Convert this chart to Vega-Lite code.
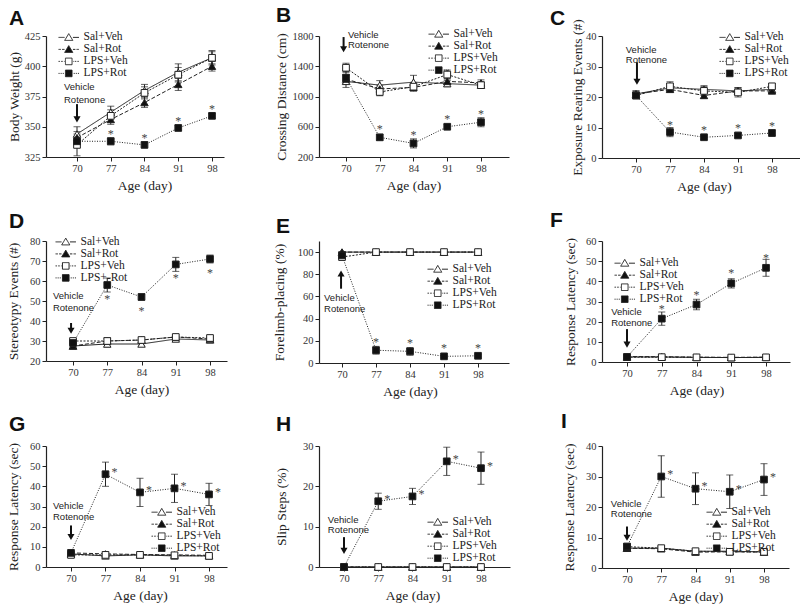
{
"$schema": "https://vega.github.io/schema/vega-lite/v6.json",
"background": "white",
"padding": {"left": 5, "top": 5, "right": 2, "bottom": 2},
"bounds": "flush",
"columns": 3,
"spacing": {"row": 83, "column": 92},
"align": {"row": "each", "column": "none"},
"datasets": {
"A": [
{"g":"Sal+Veh","day":70,"m":344,"e":6},{"g":"Sal+Veh","day":77,"m":362,"e":5},{"g":"Sal+Veh","day":84,"m":380,"e":5},{"g":"Sal+Veh","day":91,"m":395,"e":7},{"g":"Sal+Veh","day":98,"m":407,"e":6},
{"g":"Sal+Rot","day":70,"m":341,"e":5},{"g":"Sal+Rot","day":77,"m":356,"e":4},{"g":"Sal+Rot","day":84,"m":370,"e":4},{"g":"Sal+Rot","day":91,"m":385,"e":5},{"g":"Sal+Rot","day":98,"m":400,"e":4},
{"g":"LPS+Veh","day":70,"m":335,"e":9},{"g":"LPS+Veh","day":77,"m":359,"e":5},{"g":"LPS+Veh","day":84,"m":378,"e":5},{"g":"LPS+Veh","day":91,"m":393,"e":6},{"g":"LPS+Veh","day":98,"m":407,"e":5},
{"g":"LPS+Rot","day":70,"m":338,"e":3},{"g":"LPS+Rot","day":77,"m":338,"e":3},{"g":"LPS+Rot","day":84,"m":335,"e":2},{"g":"LPS+Rot","day":91,"m":349,"e":2},{"g":"LPS+Rot","day":98,"m":359,"e":2}],
"B": [
{"g":"Sal+Veh","day":70,"m":1200,"e":80},{"g":"Sal+Veh","day":77,"m":1150,"e":60},{"g":"Sal+Veh","day":84,"m":1190,"e":90},{"g":"Sal+Veh","day":91,"m":1170,"e":40},{"g":"Sal+Veh","day":98,"m":1150,"e":40},
{"g":"Sal+Rot","day":70,"m":1230,"e":60},{"g":"Sal+Rot","day":77,"m":1100,"e":50},{"g":"Sal+Rot","day":84,"m":1120,"e":50},{"g":"Sal+Rot","day":91,"m":1200,"e":40},{"g":"Sal+Rot","day":98,"m":1180,"e":40},
{"g":"LPS+Veh","day":70,"m":1380,"e":60},{"g":"LPS+Veh","day":77,"m":1060,"e":50},{"g":"LPS+Veh","day":84,"m":1130,"e":50},{"g":"LPS+Veh","day":91,"m":1290,"e":60},{"g":"LPS+Veh","day":98,"m":1150,"e":40},
{"g":"LPS+Rot","day":70,"m":1250,"e":80},{"g":"LPS+Rot","day":77,"m":460,"e":40},{"g":"LPS+Rot","day":84,"m":380,"e":60},{"g":"LPS+Rot","day":91,"m":600,"e":30},{"g":"LPS+Rot","day":98,"m":660,"e":60}],
"C": [
{"g":"Sal+Veh","day":70,"m":21,"e":1},{"g":"Sal+Veh","day":77,"m":23,"e":1.2},{"g":"Sal+Veh","day":84,"m":22.5,"e":1.2},{"g":"Sal+Veh","day":91,"m":22,"e":1},{"g":"Sal+Veh","day":98,"m":22.5,"e":1},
{"g":"Sal+Rot","day":70,"m":21,"e":1},{"g":"Sal+Rot","day":77,"m":22.5,"e":1},{"g":"Sal+Rot","day":84,"m":20.5,"e":1},{"g":"Sal+Rot","day":91,"m":22,"e":1},{"g":"Sal+Rot","day":98,"m":22,"e":1},
{"g":"LPS+Veh","day":70,"m":20.5,"e":1},{"g":"LPS+Veh","day":77,"m":23.5,"e":1.5},{"g":"LPS+Veh","day":84,"m":22,"e":1.5},{"g":"LPS+Veh","day":91,"m":21.5,"e":1.5},{"g":"LPS+Veh","day":98,"m":23.5,"e":0.8},
{"g":"LPS+Rot","day":70,"m":20.5,"e":1},{"g":"LPS+Rot","day":77,"m":8.5,"e":1.5},{"g":"LPS+Rot","day":84,"m":6.8,"e":0.6},{"g":"LPS+Rot","day":91,"m":7.4,"e":0.6},{"g":"LPS+Rot","day":98,"m":8.2,"e":1}],
"D": [
{"g":"Sal+Veh","day":70,"m":27.5,"e":1},{"g":"Sal+Veh","day":77,"m":28.5,"e":1.5},{"g":"Sal+Veh","day":84,"m":28.5,"e":1},{"g":"Sal+Veh","day":91,"m":31,"e":1},{"g":"Sal+Veh","day":98,"m":30.5,"e":1},
{"g":"Sal+Rot","day":70,"m":27.5,"e":1},{"g":"Sal+Rot","day":77,"m":30,"e":1.5},{"g":"Sal+Rot","day":84,"m":30.5,"e":1},{"g":"Sal+Rot","day":91,"m":32,"e":1},{"g":"Sal+Rot","day":98,"m":31,"e":1},
{"g":"LPS+Veh","day":70,"m":30,"e":1},{"g":"LPS+Veh","day":77,"m":30,"e":1.5},{"g":"LPS+Veh","day":84,"m":30.5,"e":1},{"g":"LPS+Veh","day":91,"m":32,"e":1},{"g":"LPS+Veh","day":98,"m":31.5,"e":1},
{"g":"LPS+Rot","day":70,"m":29,"e":1},{"g":"LPS+Rot","day":77,"m":58,"e":3.5},{"g":"LPS+Rot","day":84,"m":52,"e":1.5},{"g":"LPS+Rot","day":91,"m":68.3,"e":3.5},{"g":"LPS+Rot","day":98,"m":71,"e":2}],
"E": [
{"g":"Sal+Veh","day":70,"m":100,"e":0},{"g":"Sal+Veh","day":77,"m":100,"e":0},{"g":"Sal+Veh","day":84,"m":100,"e":0},{"g":"Sal+Veh","day":91,"m":100,"e":0},{"g":"Sal+Veh","day":98,"m":100,"e":0},
{"g":"Sal+Rot","day":70,"m":100,"e":0},{"g":"Sal+Rot","day":77,"m":100,"e":0},{"g":"Sal+Rot","day":84,"m":100,"e":0},{"g":"Sal+Rot","day":91,"m":100,"e":0},{"g":"Sal+Rot","day":98,"m":100,"e":0},
{"g":"LPS+Veh","day":70,"m":95.5,"e":1},{"g":"LPS+Veh","day":77,"m":100,"e":0},{"g":"LPS+Veh","day":84,"m":100,"e":0},{"g":"LPS+Veh","day":91,"m":100,"e":0},{"g":"LPS+Veh","day":98,"m":100,"e":0},
{"g":"LPS+Rot","day":70,"m":97,"e":1},{"g":"LPS+Rot","day":77,"m":11.5,"e":3.5},{"g":"LPS+Rot","day":84,"m":10.5,"e":3.5},{"g":"LPS+Rot","day":91,"m":6,"e":1},{"g":"LPS+Rot","day":98,"m":6.5,"e":1}],
"F": [
{"g":"Sal+Veh","day":70,"m":2.5,"e":0.5},{"g":"Sal+Veh","day":77,"m":2.5,"e":0.5},{"g":"Sal+Veh","day":84,"m":2.3,"e":0.5},{"g":"Sal+Veh","day":91,"m":2.2,"e":0.5},{"g":"Sal+Veh","day":98,"m":2.3,"e":0.5},
{"g":"Sal+Rot","day":70,"m":2.7,"e":0.5},{"g":"Sal+Rot","day":77,"m":2.6,"e":0.5},{"g":"Sal+Rot","day":84,"m":2.4,"e":0.5},{"g":"Sal+Rot","day":91,"m":2.3,"e":0.5},{"g":"Sal+Rot","day":98,"m":2.4,"e":0.5},
{"g":"LPS+Veh","day":70,"m":2.4,"e":0.5},{"g":"LPS+Veh","day":77,"m":2.4,"e":0.5},{"g":"LPS+Veh","day":84,"m":2.3,"e":0.5},{"g":"LPS+Veh","day":91,"m":2.2,"e":0.5},{"g":"LPS+Veh","day":98,"m":2.3,"e":0.5},
{"g":"LPS+Rot","day":70,"m":2.5,"e":0.5},{"g":"LPS+Rot","day":77,"m":21.5,"e":3.3},{"g":"LPS+Rot","day":84,"m":28.5,"e":2.6},{"g":"LPS+Rot","day":91,"m":39,"e":2.3},{"g":"LPS+Rot","day":98,"m":46.7,"e":4.2}],
"G": [
{"g":"Sal+Veh","day":70,"m":6.5,"e":0.8},{"g":"Sal+Veh","day":77,"m":5.5,"e":0.6},{"g":"Sal+Veh","day":84,"m":6,"e":0.6},{"g":"Sal+Veh","day":91,"m":5.5,"e":0.5},{"g":"Sal+Veh","day":98,"m":5.5,"e":0.5},
{"g":"Sal+Rot","day":70,"m":7,"e":0.8},{"g":"Sal+Rot","day":77,"m":6.5,"e":0.6},{"g":"Sal+Rot","day":84,"m":6.2,"e":0.5},{"g":"Sal+Rot","day":91,"m":6,"e":0.5},{"g":"Sal+Rot","day":98,"m":5.8,"e":0.5},
{"g":"LPS+Veh","day":70,"m":6,"e":0.8},{"g":"LPS+Veh","day":77,"m":6,"e":0.5},{"g":"LPS+Veh","day":84,"m":6,"e":0.5},{"g":"LPS+Veh","day":91,"m":5.8,"e":0.5},{"g":"LPS+Veh","day":98,"m":5.5,"e":0.5},
{"g":"LPS+Rot","day":70,"m":7,"e":0.8},{"g":"LPS+Rot","day":77,"m":46,"e":6},{"g":"LPS+Rot","day":84,"m":37,"e":7},{"g":"LPS+Rot","day":91,"m":39,"e":7},{"g":"LPS+Rot","day":98,"m":36,"e":5.5}],
"H": [
{"g":"Sal+Veh","day":70,"m":0,"e":0},{"g":"Sal+Veh","day":77,"m":0,"e":0},{"g":"Sal+Veh","day":84,"m":0,"e":0},{"g":"Sal+Veh","day":91,"m":0,"e":0},{"g":"Sal+Veh","day":98,"m":0,"e":0},
{"g":"Sal+Rot","day":70,"m":0,"e":0},{"g":"Sal+Rot","day":77,"m":0,"e":0},{"g":"Sal+Rot","day":84,"m":0,"e":0},{"g":"Sal+Rot","day":91,"m":0,"e":0},{"g":"Sal+Rot","day":98,"m":0,"e":0},
{"g":"LPS+Veh","day":70,"m":0,"e":0},{"g":"LPS+Veh","day":77,"m":0,"e":0},{"g":"LPS+Veh","day":84,"m":0,"e":0},{"g":"LPS+Veh","day":91,"m":0,"e":0},{"g":"LPS+Veh","day":98,"m":0,"e":0},
{"g":"LPS+Rot","day":70,"m":0,"e":0},{"g":"LPS+Rot","day":77,"m":16.3,"e":2},{"g":"LPS+Rot","day":84,"m":17.5,"e":2},{"g":"LPS+Rot","day":91,"m":26.2,"e":3.5},{"g":"LPS+Rot","day":98,"m":24.5,"e":4}],
"I": [
{"g":"Sal+Veh","day":70,"m":6.5,"e":0.7},{"g":"Sal+Veh","day":77,"m":6.5,"e":0.5},{"g":"Sal+Veh","day":84,"m":5.5,"e":0.6},{"g":"Sal+Veh","day":91,"m":5.5,"e":0.5},{"g":"Sal+Veh","day":98,"m":5.3,"e":0.5},
{"g":"Sal+Rot","day":70,"m":6.5,"e":0.7},{"g":"Sal+Rot","day":77,"m":6.3,"e":0.5},{"g":"Sal+Rot","day":84,"m":5.2,"e":0.5},{"g":"Sal+Rot","day":91,"m":5.3,"e":0.5},{"g":"Sal+Rot","day":98,"m":5.2,"e":0.5},
{"g":"LPS+Veh","day":70,"m":7,"e":0.7},{"g":"LPS+Veh","day":77,"m":6.5,"e":0.5},{"g":"LPS+Veh","day":84,"m":5.5,"e":0.5},{"g":"LPS+Veh","day":91,"m":5.3,"e":0.5},{"g":"LPS+Veh","day":98,"m":5.3,"e":0.5},
{"g":"LPS+Rot","day":70,"m":7,"e":0.7},{"g":"LPS+Rot","day":77,"m":30,"e":6.8},{"g":"LPS+Rot","day":84,"m":26,"e":5.2},{"g":"LPS+Rot","day":91,"m":25,"e":5.5},{"g":"LPS+Rot","day":98,"m":29,"e":5.2}]
},
"concat": [
{"width":178,"height":121,"title":{"text":"A","dx":-37,"offset":2},"data":{"name":"A"},
"encoding":{"x":{"field":"day","type":"quantitative","scale":{"domain":[63.57,100.49],"nice":false,"zero":false},"axis":{"values":[70,77,84,91,98],"format":"d","title":"Age (day)","titleX":98.5}},
"y":{"field":"m","type":"quantitative","scale":{"domain":[325,425],"nice":false,"zero":false},"axis":{"values":[325,350,375,400,425],"format":"d","title":"Body Weight (g)","titleX":-32}}},
"layer":[
{"mark":{"type":"line","color":"#222","strokeWidth":1},"encoding":{"strokeDash":{"field":"g","type":"nominal","scale":{"domain":["Sal+Veh","Sal+Rot","LPS+Veh","LPS+Rot"],"range":[[1,0],[4,2],[2,1.5],[1,1.5]]},"legend":null}}},
{"mark":{"type":"errorbar","color":"#222","thickness":1,"ticks":{"size":7,"thickness":1,"color":"#222"}},"encoding":{"yError":{"field":"e"}}},
{"transform":[{"filter":"datum.g == 'Sal+Veh' || datum.g == 'Sal+Rot'"}],"mark":{"type":"point","shape":"triangle-up","filled":true,"stroke":"#222","strokeWidth":1,"size":55,"opacity":1},"encoding":{"fill":{"field":"g","type":"nominal","scale":{"domain":["Sal+Veh","Sal+Rot","LPS+Veh","LPS+Rot"],"range":["#ffffff","#111111","#ffffff","#111111"]},"legend":null}}},
{"transform":[{"filter":"datum.g == 'LPS+Veh' || datum.g == 'LPS+Rot'"}],"mark":{"type":"point","shape":"square","filled":true,"stroke":"#222","strokeWidth":1,"size":45,"opacity":1},"encoding":{"fill":{"field":"g","type":"nominal","scale":{"domain":["Sal+Veh","Sal+Rot","LPS+Veh","LPS+Rot"],"range":["#ffffff","#111111","#ffffff","#111111"]},"legend":null}}},
{"mark":{"type":"point","filled":true,"opacity":0,"size":36},"encoding":{
"shape":{"field":"g","type":"nominal","scale":{"domain":["Sal+Veh","Sal+Rot","LPS+Veh","LPS+Rot"],"range":["M-3.4,0H-1.4M1.4,0H3.4M0,-1.25L1.35,1L-1.35,1Z","M-3.4,0H-2.6M-2.2,0H-1.4M1.4,0H2.2M2.6,0H3.4M0,-1.25L1.35,1L-1.35,1Z","M-3.4,0H-2.9M-2.5,0H-2M-1.6,0H-1.4M1.4,0H1.6M2,0H2.5M2.9,0H3.4M-1.1,-1.1H1.1V1.1H-1.1Z","M-3.4,0H-3.05M-2.7,0H-2.35M-2,0H-1.65M1.65,0H2M2.35,0H2.7M3.05,0H3.4M-1.1,-1.1H1.1V1.1H-1.1Z"]},"legend":{"title":null,"orient":"none","legendX":17,"legendY":-4.35,"symbolSize":36,"labelFont":"Liberation Serif","labelFontSize":11.5,"labelColor":"#222","labelOffset":9,"rowPadding":-6.4,"padding":0,"symbolStrokeWidth":1,"symbolStrokeColor":"#222","labelBaseline":"middle","encode":{"symbols":{"update":{"stroke":{"value":"#222"},"strokeWidth":{"value":1},"opacity":{"value":1}}}}}},
"fill":{"field":"g","type":"nominal","scale":{"domain":["Sal+Veh","Sal+Rot","LPS+Veh","LPS+Rot"],"range":["#ffffff","#111111","#ffffff","#111111"]},"legend":{"title":null,"orient":"none","legendX":17,"legendY":-4.35,"symbolSize":36,"labelFont":"Liberation Serif","labelFontSize":11.5,"labelColor":"#222","labelOffset":9,"rowPadding":-6.4,"padding":0,"symbolStrokeWidth":1,"symbolStrokeColor":"#222","labelBaseline":"middle","encode":{"symbols":{"update":{"stroke":{"value":"#222"},"strokeWidth":{"value":1},"opacity":{"value":1}}}}}},
"strokeDash":{"field":"g","type":"nominal","scale":{"domain":["Sal+Veh","Sal+Rot","LPS+Veh","LPS+Rot"],"range":[[1,0],[1,0],[1,0],[1,0]]},"legend":{"title":null,"orient":"none","legendX":17,"legendY":-4.35,"symbolSize":36,"labelFont":"Liberation Serif","labelFontSize":11.5,"labelColor":"#222","labelOffset":9,"rowPadding":-6.4,"padding":0,"symbolStrokeWidth":1,"symbolStrokeColor":"#222","labelBaseline":"middle","encode":{"symbols":{"update":{"stroke":{"value":"#222"},"strokeWidth":{"value":1},"opacity":{"value":1}}}}}}}},
{"transform":[{"filter":"datum.g == 'LPS+Rot' && datum.day > 70"}],"mark":{"type":"text","text":"*","font":"Liberation Serif","fontSize":12,"color":"#444","baseline":"middle","dy":-7}},
{"data":{"values":[{"day":70,"m":368.7,"m2":356.1}]},"mark":{"type":"rule","strokeWidth":2,"color":"#111"},"encoding":{"y2":{"field":"m2"}}},
{"data":{"values":[{"day":70,"m":356.1}]},"mark":{"type":"point","shape":"triangle-down","filled":true,"color":"#111","size":50,"opacity":1}},
{"data":{"values":[{"day":67.3,"m":380,"label":"Vehicle"},{"day":67.3,"m":369.7,"label":"Rotenone"}]},"mark":{"type":"text","align":"left","baseline":"alphabetic","font":"Liberation Sans","fontSize":9.5,"color":"#222"},"encoding":{"text":{"field":"label"}}}
],
"resolve":{"scale":{"shape":"independent","fill":"independent","strokeDash":"independent"}}},

{"width":190,"height":121,"title":{"text":"B","dx":-43,"offset":2},"data":{"name":"B"},
"encoding":{"x":{"field":"day","type":"quantitative","scale":{"domain":[64.40,103.81],"nice":false,"zero":false},"axis":{"values":[70,77,84,91,98],"format":"d","title":"Age (day)","titleX":94.5}},
"y":{"field":"m","type":"quantitative","scale":{"domain":[200,1800],"nice":false,"zero":false},"axis":{"values":[200,600,1000,1400,1800],"format":"d","title":"Crossing Distance (cm)","titleX":-38}}},
"layer":[
{"mark":{"type":"line","color":"#222","strokeWidth":1},"encoding":{"strokeDash":{"field":"g","type":"nominal","scale":{"domain":["Sal+Veh","Sal+Rot","LPS+Veh","LPS+Rot"],"range":[[1,0],[4,2],[2,1.5],[1,1.5]]},"legend":null}}},
{"mark":{"type":"errorbar","color":"#222","thickness":1,"ticks":{"size":7,"thickness":1,"color":"#222"}},"encoding":{"yError":{"field":"e"}}},
{"transform":[{"filter":"datum.g == 'Sal+Veh' || datum.g == 'Sal+Rot'"}],"mark":{"type":"point","shape":"triangle-up","filled":true,"stroke":"#222","strokeWidth":1,"size":55,"opacity":1},"encoding":{"fill":{"field":"g","type":"nominal","scale":{"domain":["Sal+Veh","Sal+Rot","LPS+Veh","LPS+Rot"],"range":["#ffffff","#111111","#ffffff","#111111"]},"legend":null}}},
{"transform":[{"filter":"datum.g == 'LPS+Veh' || datum.g == 'LPS+Rot'"}],"mark":{"type":"point","shape":"square","filled":true,"stroke":"#222","strokeWidth":1,"size":45,"opacity":1},"encoding":{"fill":{"field":"g","type":"nominal","scale":{"domain":["Sal+Veh","Sal+Rot","LPS+Veh","LPS+Rot"],"range":["#ffffff","#111111","#ffffff","#111111"]},"legend":null}}},
{"mark":{"type":"point","filled":true,"opacity":0,"size":36},"encoding":{
"shape":{"field":"g","type":"nominal","scale":{"domain":["Sal+Veh","Sal+Rot","LPS+Veh","LPS+Rot"],"range":["M-3.4,0H-1.4M1.4,0H3.4M0,-1.25L1.35,1L-1.35,1Z","M-3.4,0H-2.6M-2.2,0H-1.4M1.4,0H2.2M2.6,0H3.4M0,-1.25L1.35,1L-1.35,1Z","M-3.4,0H-2.9M-2.5,0H-2M-1.6,0H-1.4M1.4,0H1.6M2,0H2.5M2.9,0H3.4M-1.1,-1.1H1.1V1.1H-1.1Z","M-3.4,0H-3.05M-2.7,0H-2.35M-2,0H-1.65M1.65,0H2M2.35,0H2.7M3.05,0H3.4M-1.1,-1.1H1.1V1.1H-1.1Z"]},"legend":{"title":null,"orient":"none","legendX":114,"legendY":-7.6,"symbolSize":36,"labelFont":"Liberation Serif","labelFontSize":11.5,"labelColor":"#222","labelOffset":9,"rowPadding":-5.4,"padding":0,"symbolStrokeWidth":1,"symbolStrokeColor":"#222","labelBaseline":"middle","encode":{"symbols":{"update":{"stroke":{"value":"#222"},"strokeWidth":{"value":1},"opacity":{"value":1}}}}}},
"fill":{"field":"g","type":"nominal","scale":{"domain":["Sal+Veh","Sal+Rot","LPS+Veh","LPS+Rot"],"range":["#ffffff","#111111","#ffffff","#111111"]},"legend":{"title":null,"orient":"none","legendX":114,"legendY":-7.6,"symbolSize":36,"labelFont":"Liberation Serif","labelFontSize":11.5,"labelColor":"#222","labelOffset":9,"rowPadding":-5.4,"padding":0,"symbolStrokeWidth":1,"symbolStrokeColor":"#222","labelBaseline":"middle","encode":{"symbols":{"update":{"stroke":{"value":"#222"},"strokeWidth":{"value":1},"opacity":{"value":1}}}}}},
"strokeDash":{"field":"g","type":"nominal","scale":{"domain":["Sal+Veh","Sal+Rot","LPS+Veh","LPS+Rot"],"range":[[1,0],[1,0],[1,0],[1,0]]},"legend":{"title":null,"orient":"none","legendX":114,"legendY":-7.6,"symbolSize":36,"labelFont":"Liberation Serif","labelFontSize":11.5,"labelColor":"#222","labelOffset":9,"rowPadding":-5.4,"padding":0,"symbolStrokeWidth":1,"symbolStrokeColor":"#222","labelBaseline":"middle","encode":{"symbols":{"update":{"stroke":{"value":"#222"},"strokeWidth":{"value":1},"opacity":{"value":1}}}}}}}},
{"transform":[{"filter":"datum.g == 'LPS+Rot' && datum.day > 70"}],"mark":{"type":"text","text":"*","font":"Liberation Serif","fontSize":12,"color":"#444","baseline":"middle","dy":-8}},
{"data":{"values":[{"day":69.5,"m":1786,"m2":1625}]},"mark":{"type":"rule","strokeWidth":2,"color":"#111"},"encoding":{"y2":{"field":"m2"}}},
{"data":{"values":[{"day":69.5,"m":1625}]},"mark":{"type":"point","shape":"triangle-down","filled":true,"color":"#111","size":50,"opacity":1}},
{"data":{"values":[{"day":70.4,"m":1779,"label":"Vehicle"},{"day":70.4,"m":1647,"label":"Rotenone"}]},"mark":{"type":"text","align":"left","baseline":"alphabetic","font":"Liberation Sans","fontSize":9.5,"color":"#222"},"encoding":{"text":{"field":"label"}}}
],
"resolve":{"scale":{"shape":"independent","fill":"independent","strokeDash":"independent"}}},

{"width":200,"height":122,"title":{"text":"C","dx":-52,"offset":-10},"data":{"name":"C"},
"encoding":{"x":{"field":"day","type":"quantitative","scale":{"domain":[63.0,104.18],"nice":false,"zero":false},"axis":{"values":[70,77,84,91,98],"format":"d","title":"Age (day)","titleX":102}},
"y":{"field":"m","type":"quantitative","scale":{"domain":[0,40],"nice":false,"zero":false},"axis":{"values":[0,10,20,30,40],"format":"d","title":"Exposure Rearing Events (#)","titleX":-25}}},
"layer":[
{"mark":{"type":"line","color":"#222","strokeWidth":1},"encoding":{"strokeDash":{"field":"g","type":"nominal","scale":{"domain":["Sal+Veh","Sal+Rot","LPS+Veh","LPS+Rot"],"range":[[1,0],[4,2],[2,1.5],[1,1.5]]},"legend":null}}},
{"mark":{"type":"errorbar","color":"#222","thickness":1,"ticks":{"size":7,"thickness":1,"color":"#222"}},"encoding":{"yError":{"field":"e"}}},
{"transform":[{"filter":"datum.g == 'Sal+Veh' || datum.g == 'Sal+Rot'"}],"mark":{"type":"point","shape":"triangle-up","filled":true,"stroke":"#222","strokeWidth":1,"size":55,"opacity":1},"encoding":{"fill":{"field":"g","type":"nominal","scale":{"domain":["Sal+Veh","Sal+Rot","LPS+Veh","LPS+Rot"],"range":["#ffffff","#111111","#ffffff","#111111"]},"legend":null}}},
{"transform":[{"filter":"datum.g == 'LPS+Veh' || datum.g == 'LPS+Rot'"}],"mark":{"type":"point","shape":"square","filled":true,"stroke":"#222","strokeWidth":1,"size":45,"opacity":1},"encoding":{"fill":{"field":"g","type":"nominal","scale":{"domain":["Sal+Veh","Sal+Rot","LPS+Veh","LPS+Rot"],"range":["#ffffff","#111111","#ffffff","#111111"]},"legend":null}}},
{"mark":{"type":"point","filled":true,"opacity":0,"size":36},"encoding":{
"shape":{"field":"g","type":"nominal","scale":{"domain":["Sal+Veh","Sal+Rot","LPS+Veh","LPS+Rot"],"range":["M-3.4,0H-1.4M1.4,0H3.4M0,-1.25L1.35,1L-1.35,1Z","M-3.4,0H-2.6M-2.2,0H-1.4M1.4,0H2.2M2.6,0H3.4M0,-1.25L1.35,1L-1.35,1Z","M-3.4,0H-2.9M-2.5,0H-2M-1.6,0H-1.4M1.4,0H1.6M2,0H2.5M2.9,0H3.4M-1.1,-1.1H1.1V1.1H-1.1Z","M-3.4,0H-3.05M-2.7,0H-2.35M-2,0H-1.65M1.65,0H2M2.35,0H2.7M3.05,0H3.4M-1.1,-1.1H1.1V1.1H-1.1Z"]},"legend":{"title":null,"orient":"none","legendX":122,"legendY":-4.35,"symbolSize":36,"labelFont":"Liberation Serif","labelFontSize":11.5,"labelColor":"#222","labelOffset":9,"rowPadding":-6.6,"padding":0,"symbolStrokeWidth":1,"symbolStrokeColor":"#222","labelBaseline":"middle","encode":{"symbols":{"update":{"stroke":{"value":"#222"},"strokeWidth":{"value":1},"opacity":{"value":1}}}}}},
"fill":{"field":"g","type":"nominal","scale":{"domain":["Sal+Veh","Sal+Rot","LPS+Veh","LPS+Rot"],"range":["#ffffff","#111111","#ffffff","#111111"]},"legend":{"title":null,"orient":"none","legendX":122,"legendY":-4.35,"symbolSize":36,"labelFont":"Liberation Serif","labelFontSize":11.5,"labelColor":"#222","labelOffset":9,"rowPadding":-6.6,"padding":0,"symbolStrokeWidth":1,"symbolStrokeColor":"#222","labelBaseline":"middle","encode":{"symbols":{"update":{"stroke":{"value":"#222"},"strokeWidth":{"value":1},"opacity":{"value":1}}}}}},
"strokeDash":{"field":"g","type":"nominal","scale":{"domain":["Sal+Veh","Sal+Rot","LPS+Veh","LPS+Rot"],"range":[[1,0],[1,0],[1,0],[1,0]]},"legend":{"title":null,"orient":"none","legendX":122,"legendY":-4.35,"symbolSize":36,"labelFont":"Liberation Serif","labelFontSize":11.5,"labelColor":"#222","labelOffset":9,"rowPadding":-6.6,"padding":0,"symbolStrokeWidth":1,"symbolStrokeColor":"#222","labelBaseline":"middle","encode":{"symbols":{"update":{"stroke":{"value":"#222"},"strokeWidth":{"value":1},"opacity":{"value":1}}}}}}}},
{"transform":[{"filter":"datum.g == 'LPS+Rot' && datum.day > 70"}],"mark":{"type":"text","text":"*","font":"Liberation Serif","fontSize":12,"color":"#444","baseline":"middle","dy":-7}},
{"data":{"values":[{"day":70.2,"m":31.4,"m2":25}]},"mark":{"type":"rule","strokeWidth":2,"color":"#111"},"encoding":{"y2":{"field":"m2"}}},
{"data":{"values":[{"day":70.2,"m":25}]},"mark":{"type":"point","shape":"triangle-down","filled":true,"color":"#111","size":50,"opacity":1}},
{"data":{"values":[{"day":67.9,"m":34.4,"label":"Vehicle"},{"day":67.9,"m":31.1,"label":"Rotenone"}]},"mark":{"type":"text","align":"left","baseline":"alphabetic","font":"Liberation Sans","fontSize":9.5,"color":"#222"},"encoding":{"text":{"field":"label"}}}
],
"resolve":{"scale":{"shape":"independent","fill":"independent","strokeDash":"independent"}}},

{"width":181,"height":120,"title":{"text":"D","dx":-37,"offset":4},"data":{"name":"D"},
"encoding":{"x":{"field":"day","type":"quantitative","scale":{"domain":[64.48,101.47],"nice":false,"zero":false},"axis":{"values":[70,77,84,91,98],"format":"d","title":"Age (day)","titleX":95.5}},
"y":{"field":"m","type":"quantitative","scale":{"domain":[20,80],"nice":false,"zero":false},"axis":{"values":[20,30,40,50,60,70,80],"format":"d","title":"Stereotypy Events (#)","titleX":-33}}},
"layer":[
{"mark":{"type":"line","color":"#222","strokeWidth":1},"encoding":{"strokeDash":{"field":"g","type":"nominal","scale":{"domain":["Sal+Veh","Sal+Rot","LPS+Veh","LPS+Rot"],"range":[[1,0],[4,2],[2,1.5],[1,1.5]]},"legend":null}}},
{"mark":{"type":"errorbar","color":"#222","thickness":1,"ticks":{"size":7,"thickness":1,"color":"#222"}},"encoding":{"yError":{"field":"e"}}},
{"transform":[{"filter":"datum.g == 'Sal+Veh' || datum.g == 'Sal+Rot'"}],"mark":{"type":"point","shape":"triangle-up","filled":true,"stroke":"#222","strokeWidth":1,"size":55,"opacity":1},"encoding":{"fill":{"field":"g","type":"nominal","scale":{"domain":["Sal+Veh","Sal+Rot","LPS+Veh","LPS+Rot"],"range":["#ffffff","#111111","#ffffff","#111111"]},"legend":null}}},
{"transform":[{"filter":"datum.g == 'LPS+Veh' || datum.g == 'LPS+Rot'"}],"mark":{"type":"point","shape":"square","filled":true,"stroke":"#222","strokeWidth":1,"size":45,"opacity":1},"encoding":{"fill":{"field":"g","type":"nominal","scale":{"domain":["Sal+Veh","Sal+Rot","LPS+Veh","LPS+Rot"],"range":["#ffffff","#111111","#ffffff","#111111"]},"legend":null}}},
{"mark":{"type":"point","filled":true,"opacity":0,"size":36},"encoding":{
"shape":{"field":"g","type":"nominal","scale":{"domain":["Sal+Veh","Sal+Rot","LPS+Veh","LPS+Rot"],"range":["M-3.4,0H-1.4M1.4,0H3.4M0,-1.25L1.35,1L-1.35,1Z","M-3.4,0H-2.6M-2.2,0H-1.4M1.4,0H2.2M2.6,0H3.4M0,-1.25L1.35,1L-1.35,1Z","M-3.4,0H-2.9M-2.5,0H-2M-1.6,0H-1.4M1.4,0H1.6M2,0H2.5M2.9,0H3.4M-1.1,-1.1H1.1V1.1H-1.1Z","M-3.4,0H-3.05M-2.7,0H-2.35M-2,0H-1.65M1.65,0H2M2.35,0H2.7M3.05,0H3.4M-1.1,-1.1H1.1V1.1H-1.1Z"]},"legend":{"title":null,"orient":"none","legendX":14,"legendY":-4.85,"symbolSize":36,"labelFont":"Liberation Serif","labelFontSize":11.5,"labelColor":"#222","labelOffset":9,"rowPadding":-5.7,"padding":0,"symbolStrokeWidth":1,"symbolStrokeColor":"#222","labelBaseline":"middle","labelExpr":"datum.label == 'LPS+Rot' ? 'LPS+-Rot' : datum.label","encode":{"symbols":{"update":{"stroke":{"value":"#222"},"strokeWidth":{"value":1},"opacity":{"value":1}}}}}},
"fill":{"field":"g","type":"nominal","scale":{"domain":["Sal+Veh","Sal+Rot","LPS+Veh","LPS+Rot"],"range":["#ffffff","#111111","#ffffff","#111111"]},"legend":{"title":null,"orient":"none","legendX":14,"legendY":-4.85,"symbolSize":36,"labelFont":"Liberation Serif","labelFontSize":11.5,"labelColor":"#222","labelOffset":9,"rowPadding":-5.7,"padding":0,"symbolStrokeWidth":1,"symbolStrokeColor":"#222","labelBaseline":"middle","labelExpr":"datum.label == 'LPS+Rot' ? 'LPS+-Rot' : datum.label","encode":{"symbols":{"update":{"stroke":{"value":"#222"},"strokeWidth":{"value":1},"opacity":{"value":1}}}}}},
"strokeDash":{"field":"g","type":"nominal","scale":{"domain":["Sal+Veh","Sal+Rot","LPS+Veh","LPS+Rot"],"range":[[1,0],[1,0],[1,0],[1,0]]},"legend":{"title":null,"orient":"none","legendX":14,"legendY":-4.85,"symbolSize":36,"labelFont":"Liberation Serif","labelFontSize":11.5,"labelColor":"#222","labelOffset":9,"rowPadding":-5.7,"padding":0,"symbolStrokeWidth":1,"symbolStrokeColor":"#222","labelBaseline":"middle","labelExpr":"datum.label == 'LPS+Rot' ? 'LPS+-Rot' : datum.label","encode":{"symbols":{"update":{"stroke":{"value":"#222"},"strokeWidth":{"value":1},"opacity":{"value":1}}}}}}}},
{"transform":[{"filter":"datum.g == 'LPS+Rot' && datum.day > 70"}],"mark":{"type":"text","text":"*","font":"Liberation Serif","fontSize":12,"color":"#444","baseline":"middle","dy":14}},
{"data":{"values":[{"day":69.6,"m":39,"m2":35.1}]},"mark":{"type":"rule","strokeWidth":2,"color":"#111"},"encoding":{"y2":{"field":"m2"}}},
{"data":{"values":[{"day":69.6,"m":35.1}]},"mark":{"type":"point","shape":"triangle-down","filled":true,"color":"#111","size":50,"opacity":1}},
{"data":{"values":[{"day":65.9,"m":51,"label":"Vehicle"},{"day":65.9,"m":45.25,"label":"Rotenone"}]},"mark":{"type":"text","align":"left","baseline":"alphabetic","font":"Liberation Sans","fontSize":9.5,"color":"#222"},"encoding":{"text":{"field":"label"}}}
],
"resolve":{"scale":{"shape":"independent","fill":"independent","strokeDash":"independent"}}},

{"width":190,"height":122,"title":{"text":"E","dx":-43,"offset":4},"data":{"name":"E"},
"encoding":{"x":{"field":"day","type":"quantitative","scale":{"domain":[65.26,104.38],"nice":false,"zero":false},"axis":{"values":[70,77,84,91,98],"format":"d","title":"Age (day)","titleX":91}},
"y":{"field":"m","type":"quantitative","scale":{"domain":[0,110],"nice":false,"zero":false},"axis":{"values":[0,20,40,60,80,100],"format":"d","title":"Forelimb-placing (%)","titleX":-40}}},
"layer":[
{"mark":{"type":"line","color":"#222","strokeWidth":1},"encoding":{"strokeDash":{"field":"g","type":"nominal","scale":{"domain":["Sal+Veh","Sal+Rot","LPS+Veh","LPS+Rot"],"range":[[1,0],[4,2],[2,1.5],[1,1.5]]},"legend":null}}},
{"mark":{"type":"errorbar","color":"#222","thickness":1,"ticks":{"size":7,"thickness":1,"color":"#222"}},"encoding":{"yError":{"field":"e"}}},
{"transform":[{"filter":"datum.g == 'Sal+Veh' || datum.g == 'Sal+Rot'"}],"mark":{"type":"point","shape":"triangle-up","filled":true,"stroke":"#222","strokeWidth":1,"size":55,"opacity":1},"encoding":{"fill":{"field":"g","type":"nominal","scale":{"domain":["Sal+Veh","Sal+Rot","LPS+Veh","LPS+Rot"],"range":["#ffffff","#111111","#ffffff","#111111"]},"legend":null}}},
{"transform":[{"filter":"datum.g == 'LPS+Veh' || datum.g == 'LPS+Rot'"}],"mark":{"type":"point","shape":"square","filled":true,"stroke":"#222","strokeWidth":1,"size":45,"opacity":1},"encoding":{"fill":{"field":"g","type":"nominal","scale":{"domain":["Sal+Veh","Sal+Rot","LPS+Veh","LPS+Rot"],"range":["#ffffff","#111111","#ffffff","#111111"]},"legend":null}}},
{"mark":{"type":"point","filled":true,"opacity":0,"size":36},"encoding":{
"shape":{"field":"g","type":"nominal","scale":{"domain":["Sal+Veh","Sal+Rot","LPS+Veh","LPS+Rot"],"range":["M-3.4,0H-1.4M1.4,0H3.4M0,-1.25L1.35,1L-1.35,1Z","M-3.4,0H-2.6M-2.2,0H-1.4M1.4,0H2.2M2.6,0H3.4M0,-1.25L1.35,1L-1.35,1Z","M-3.4,0H-2.9M-2.5,0H-2M-1.6,0H-1.4M1.4,0H1.6M2,0H2.5M2.9,0H3.4M-1.1,-1.1H1.1V1.1H-1.1Z","M-3.4,0H-3.05M-2.7,0H-2.35M-2,0H-1.65M1.65,0H2M2.35,0H2.7M3.05,0H3.4M-1.1,-1.1H1.1V1.1H-1.1Z"]},"legend":{"title":null,"orient":"none","legendX":113,"legendY":22.45,"symbolSize":36,"labelFont":"Liberation Serif","labelFontSize":11.5,"labelColor":"#222","labelOffset":9,"rowPadding":-5.4,"padding":0,"symbolStrokeWidth":1,"symbolStrokeColor":"#222","labelBaseline":"middle","encode":{"symbols":{"update":{"stroke":{"value":"#222"},"strokeWidth":{"value":1},"opacity":{"value":1}}}}}},
"fill":{"field":"g","type":"nominal","scale":{"domain":["Sal+Veh","Sal+Rot","LPS+Veh","LPS+Rot"],"range":["#ffffff","#111111","#ffffff","#111111"]},"legend":{"title":null,"orient":"none","legendX":113,"legendY":22.45,"symbolSize":36,"labelFont":"Liberation Serif","labelFontSize":11.5,"labelColor":"#222","labelOffset":9,"rowPadding":-5.4,"padding":0,"symbolStrokeWidth":1,"symbolStrokeColor":"#222","labelBaseline":"middle","encode":{"symbols":{"update":{"stroke":{"value":"#222"},"strokeWidth":{"value":1},"opacity":{"value":1}}}}}},
"strokeDash":{"field":"g","type":"nominal","scale":{"domain":["Sal+Veh","Sal+Rot","LPS+Veh","LPS+Rot"],"range":[[1,0],[1,0],[1,0],[1,0]]},"legend":{"title":null,"orient":"none","legendX":113,"legendY":22.45,"symbolSize":36,"labelFont":"Liberation Serif","labelFontSize":11.5,"labelColor":"#222","labelOffset":9,"rowPadding":-5.4,"padding":0,"symbolStrokeWidth":1,"symbolStrokeColor":"#222","labelBaseline":"middle","encode":{"symbols":{"update":{"stroke":{"value":"#222"},"strokeWidth":{"value":1},"opacity":{"value":1}}}}}}}},
{"transform":[{"filter":"datum.g == 'LPS+Rot' && datum.day > 70"}],"mark":{"type":"text","text":"*","font":"Liberation Serif","fontSize":12,"color":"#444","baseline":"middle","dy":-8}},
{"data":{"values":[{"day":69.8,"m":67,"m2":80.7}]},"mark":{"type":"rule","strokeWidth":2,"color":"#111"},"encoding":{"y2":{"field":"m2"}}},
{"data":{"values":[{"day":69.8,"m":80.7}]},"mark":{"type":"point","shape":"triangle-up","filled":true,"color":"#111","size":50,"opacity":1}},
{"data":{"values":[{"day":66.3,"m":55.5,"label":"Vehicle"},{"day":66.3,"m":46.0,"label":"Rotenone"}]},"mark":{"type":"text","align":"left","baseline":"alphabetic","font":"Liberation Sans","fontSize":9.5,"color":"#222"},"encoding":{"text":{"field":"label"}}}
],
"resolve":{"scale":{"shape":"independent","fill":"independent","strokeDash":"independent"}}},

{"width":188,"height":121,"title":{"text":"F","dx":-52,"offset":5},"data":{"name":"F"},
"encoding":{"x":{"field":"day","type":"quantitative","scale":{"domain":[64.96,102.83],"nice":false,"zero":false},"axis":{"values":[70,77,84,91,98],"format":"d","title":"Age (day)","titleX":94.5}},
"y":{"field":"m","type":"quantitative","scale":{"domain":[0,60],"nice":false,"zero":false},"axis":{"values":[0,10,20,30,40,50,60],"format":"d","title":"Response Latency (sec)","titleX":-32}}},
"layer":[
{"mark":{"type":"line","color":"#222","strokeWidth":1},"encoding":{"strokeDash":{"field":"g","type":"nominal","scale":{"domain":["Sal+Veh","Sal+Rot","LPS+Veh","LPS+Rot"],"range":[[1,0],[4,2],[2,1.5],[1,1.5]]},"legend":null}}},
{"mark":{"type":"errorbar","color":"#222","thickness":1,"ticks":{"size":7,"thickness":1,"color":"#222"}},"encoding":{"yError":{"field":"e"}}},
{"transform":[{"filter":"datum.g == 'Sal+Veh' || datum.g == 'Sal+Rot'"}],"mark":{"type":"point","shape":"triangle-up","filled":true,"stroke":"#222","strokeWidth":1,"size":55,"opacity":1},"encoding":{"fill":{"field":"g","type":"nominal","scale":{"domain":["Sal+Veh","Sal+Rot","LPS+Veh","LPS+Rot"],"range":["#ffffff","#111111","#ffffff","#111111"]},"legend":null}}},
{"transform":[{"filter":"datum.g == 'LPS+Veh' || datum.g == 'LPS+Rot'"}],"mark":{"type":"point","shape":"square","filled":true,"stroke":"#222","strokeWidth":1,"size":45,"opacity":1},"encoding":{"fill":{"field":"g","type":"nominal","scale":{"domain":["Sal+Veh","Sal+Rot","LPS+Veh","LPS+Rot"],"range":["#ffffff","#111111","#ffffff","#111111"]},"legend":null}}},
{"mark":{"type":"point","filled":true,"opacity":0,"size":36},"encoding":{
"shape":{"field":"g","type":"nominal","scale":{"domain":["Sal+Veh","Sal+Rot","LPS+Veh","LPS+Rot"],"range":["M-3.4,0H-1.4M1.4,0H3.4M0,-1.25L1.35,1L-1.35,1Z","M-3.4,0H-2.6M-2.2,0H-1.4M1.4,0H2.2M2.6,0H3.4M0,-1.25L1.35,1L-1.35,1Z","M-3.4,0H-2.9M-2.5,0H-2M-1.6,0H-1.4M1.4,0H1.6M2,0H2.5M2.9,0H3.4M-1.1,-1.1H1.1V1.1H-1.1Z","M-3.4,0H-3.05M-2.7,0H-2.35M-2,0H-1.65M1.65,0H2M2.35,0H2.7M3.05,0H3.4M-1.1,-1.1H1.1V1.1H-1.1Z"]},"legend":{"title":null,"orient":"none","legendX":17,"legendY":16.45,"symbolSize":36,"labelFont":"Liberation Serif","labelFontSize":11.5,"labelColor":"#222","labelOffset":9,"rowPadding":-5.7,"padding":0,"symbolStrokeWidth":1,"symbolStrokeColor":"#222","labelBaseline":"middle","encode":{"symbols":{"update":{"stroke":{"value":"#222"},"strokeWidth":{"value":1},"opacity":{"value":1}}}}}},
"fill":{"field":"g","type":"nominal","scale":{"domain":["Sal+Veh","Sal+Rot","LPS+Veh","LPS+Rot"],"range":["#ffffff","#111111","#ffffff","#111111"]},"legend":{"title":null,"orient":"none","legendX":17,"legendY":16.45,"symbolSize":36,"labelFont":"Liberation Serif","labelFontSize":11.5,"labelColor":"#222","labelOffset":9,"rowPadding":-5.7,"padding":0,"symbolStrokeWidth":1,"symbolStrokeColor":"#222","labelBaseline":"middle","encode":{"symbols":{"update":{"stroke":{"value":"#222"},"strokeWidth":{"value":1},"opacity":{"value":1}}}}}},
"strokeDash":{"field":"g","type":"nominal","scale":{"domain":["Sal+Veh","Sal+Rot","LPS+Veh","LPS+Rot"],"range":[[1,0],[1,0],[1,0],[1,0]]},"legend":{"title":null,"orient":"none","legendX":17,"legendY":16.45,"symbolSize":36,"labelFont":"Liberation Serif","labelFontSize":11.5,"labelColor":"#222","labelOffset":9,"rowPadding":-5.7,"padding":0,"symbolStrokeWidth":1,"symbolStrokeColor":"#222","labelBaseline":"middle","encode":{"symbols":{"update":{"stroke":{"value":"#222"},"strokeWidth":{"value":1},"opacity":{"value":1}}}}}}}},
{"transform":[{"filter":"datum.g == 'LPS+Rot' && datum.day > 70"}],"mark":{"type":"text","text":"*","font":"Liberation Serif","fontSize":12,"color":"#444","baseline":"middle","dy":-10}},
{"data":{"values":[{"day":70,"m":16.3,"m2":8.6}]},"mark":{"type":"rule","strokeWidth":2,"color":"#111"},"encoding":{"y2":{"field":"m2"}}},
{"data":{"values":[{"day":70,"m":8.6}]},"mark":{"type":"point","shape":"triangle-down","filled":true,"color":"#111","size":50,"opacity":1}},
{"data":{"values":[{"day":66.8,"m":23.1,"label":"Vehicle"},{"day":66.8,"m":17.65,"label":"Rotenone"}]},"mark":{"type":"text","align":"left","baseline":"alphabetic","font":"Liberation Sans","fontSize":9.5,"color":"#222"},"encoding":{"text":{"field":"label"}}}
],
"resolve":{"scale":{"shape":"independent","fill":"independent","strokeDash":"independent"}}},

{"width":181,"height":121,"title":{"text":"G","dx":-37,"offset":6},"data":{"name":"G"},
"encoding":{"x":{"field":"day","type":"quantitative","scale":{"domain":[64.93,101.65],"nice":false,"zero":false},"axis":{"values":[70,77,84,91,98],"format":"d","title":"Age (day)","titleX":94}},
"y":{"field":"m","type":"quantitative","scale":{"domain":[0,60],"nice":false,"zero":false},"axis":{"values":[0,10,20,30,40,50,60],"format":"d","title":"Response Latency (sec)","titleX":-33}}},
"layer":[
{"mark":{"type":"line","color":"#222","strokeWidth":1},"encoding":{"strokeDash":{"field":"g","type":"nominal","scale":{"domain":["Sal+Veh","Sal+Rot","LPS+Veh","LPS+Rot"],"range":[[1,0],[4,2],[2,1.5],[1,1.5]]},"legend":null}}},
{"mark":{"type":"errorbar","color":"#222","thickness":1,"ticks":{"size":7,"thickness":1,"color":"#222"}},"encoding":{"yError":{"field":"e"}}},
{"transform":[{"filter":"datum.g == 'Sal+Veh' || datum.g == 'Sal+Rot'"}],"mark":{"type":"point","shape":"triangle-up","filled":true,"stroke":"#222","strokeWidth":1,"size":55,"opacity":1},"encoding":{"fill":{"field":"g","type":"nominal","scale":{"domain":["Sal+Veh","Sal+Rot","LPS+Veh","LPS+Rot"],"range":["#ffffff","#111111","#ffffff","#111111"]},"legend":null}}},
{"transform":[{"filter":"datum.g == 'LPS+Veh' || datum.g == 'LPS+Rot'"}],"mark":{"type":"point","shape":"square","filled":true,"stroke":"#222","strokeWidth":1,"size":45,"opacity":1},"encoding":{"fill":{"field":"g","type":"nominal","scale":{"domain":["Sal+Veh","Sal+Rot","LPS+Veh","LPS+Rot"],"range":["#ffffff","#111111","#ffffff","#111111"]},"legend":null}}},
{"mark":{"type":"point","filled":true,"opacity":0,"size":36},"encoding":{
"shape":{"field":"g","type":"nominal","scale":{"domain":["Sal+Veh","Sal+Rot","LPS+Veh","LPS+Rot"],"range":["M-3.4,0H-1.4M1.4,0H3.4M0,-1.25L1.35,1L-1.35,1Z","M-3.4,0H-2.6M-2.2,0H-1.4M1.4,0H2.2M2.6,0H3.4M0,-1.25L1.35,1L-1.35,1Z","M-3.4,0H-2.9M-2.5,0H-2M-1.6,0H-1.4M1.4,0H1.6M2,0H2.5M2.9,0H3.4M-1.1,-1.1H1.1V1.1H-1.1Z","M-3.4,0H-3.05M-2.7,0H-2.35M-2,0H-1.65M1.65,0H2M2.35,0H2.7M3.05,0H3.4M-1.1,-1.1H1.1V1.1H-1.1Z"]},"legend":{"title":null,"orient":"none","legendX":110,"legendY":60.45,"symbolSize":36,"labelFont":"Liberation Serif","labelFontSize":11.5,"labelColor":"#222","labelOffset":9,"rowPadding":-5,"padding":0,"symbolStrokeWidth":1,"symbolStrokeColor":"#222","labelBaseline":"middle","encode":{"symbols":{"update":{"stroke":{"value":"#222"},"strokeWidth":{"value":1},"opacity":{"value":1}}}}}},
"fill":{"field":"g","type":"nominal","scale":{"domain":["Sal+Veh","Sal+Rot","LPS+Veh","LPS+Rot"],"range":["#ffffff","#111111","#ffffff","#111111"]},"legend":{"title":null,"orient":"none","legendX":110,"legendY":60.45,"symbolSize":36,"labelFont":"Liberation Serif","labelFontSize":11.5,"labelColor":"#222","labelOffset":9,"rowPadding":-5,"padding":0,"symbolStrokeWidth":1,"symbolStrokeColor":"#222","labelBaseline":"middle","encode":{"symbols":{"update":{"stroke":{"value":"#222"},"strokeWidth":{"value":1},"opacity":{"value":1}}}}}},
"strokeDash":{"field":"g","type":"nominal","scale":{"domain":["Sal+Veh","Sal+Rot","LPS+Veh","LPS+Rot"],"range":[[1,0],[1,0],[1,0],[1,0]]},"legend":{"title":null,"orient":"none","legendX":110,"legendY":60.45,"symbolSize":36,"labelFont":"Liberation Serif","labelFontSize":11.5,"labelColor":"#222","labelOffset":9,"rowPadding":-5,"padding":0,"symbolStrokeWidth":1,"symbolStrokeColor":"#222","labelBaseline":"middle","encode":{"symbols":{"update":{"stroke":{"value":"#222"},"strokeWidth":{"value":1},"opacity":{"value":1}}}}}}}},
{"transform":[{"filter":"datum.g == 'LPS+Rot' && datum.day > 70"}],"mark":{"type":"text","text":"*","font":"Liberation Serif","fontSize":12,"color":"#444","baseline":"middle","dx":9,"dy":-2}},
{"data":{"values":[{"day":70,"m":20.6,"m2":14.9}]},"mark":{"type":"rule","strokeWidth":2,"color":"#111"},"encoding":{"y2":{"field":"m2"}}},
{"data":{"values":[{"day":70,"m":14.9}]},"mark":{"type":"point","shape":"triangle-down","filled":true,"color":"#111","size":50,"opacity":1}},
{"data":{"values":[{"day":66.35,"m":29,"label":"Vehicle"},{"day":66.35,"m":23.3,"label":"Rotenone"}]},"mark":{"type":"text","align":"left","baseline":"alphabetic","font":"Liberation Sans","fontSize":9.5,"color":"#222"},"encoding":{"text":{"field":"label"}}}
],
"resolve":{"scale":{"shape":"independent","fill":"independent","strokeDash":"independent"}}},

{"width":191,"height":121,"title":{"text":"H","dx":-43,"offset":6},"data":{"name":"H"},
"encoding":{"x":{"field":"day","type":"quantitative","scale":{"domain":[64.89,103.93],"nice":false,"zero":false},"axis":{"values":[70,77,84,91,98],"format":"d","title":"Age (day)","titleX":93.5}},
"y":{"field":"m","type":"quantitative","scale":{"domain":[0,30],"nice":false,"zero":false},"axis":{"values":[0,10,20,30],"format":"d","title":"Slip Steps (%)","titleX":-38}}},
"layer":[
{"mark":{"type":"line","color":"#222","strokeWidth":1},"encoding":{"strokeDash":{"field":"g","type":"nominal","scale":{"domain":["Sal+Veh","Sal+Rot","LPS+Veh","LPS+Rot"],"range":[[1,0],[4,2],[2,1.5],[1,1.5]]},"legend":null}}},
{"mark":{"type":"errorbar","color":"#222","thickness":1,"ticks":{"size":7,"thickness":1,"color":"#222"}},"encoding":{"yError":{"field":"e"}}},
{"transform":[{"filter":"datum.g == 'Sal+Veh' || datum.g == 'Sal+Rot'"}],"mark":{"type":"point","shape":"triangle-up","filled":true,"stroke":"#222","strokeWidth":1,"size":55,"opacity":1},"encoding":{"fill":{"field":"g","type":"nominal","scale":{"domain":["Sal+Veh","Sal+Rot","LPS+Veh","LPS+Rot"],"range":["#ffffff","#111111","#ffffff","#111111"]},"legend":null}}},
{"transform":[{"filter":"datum.g == 'LPS+Veh' || datum.g == 'LPS+Rot'"}],"mark":{"type":"point","shape":"square","filled":true,"stroke":"#222","strokeWidth":1,"size":45,"opacity":1},"encoding":{"fill":{"field":"g","type":"nominal","scale":{"domain":["Sal+Veh","Sal+Rot","LPS+Veh","LPS+Rot"],"range":["#ffffff","#111111","#ffffff","#111111"]},"legend":null}}},
{"mark":{"type":"point","filled":true,"opacity":0,"size":36},"encoding":{
"shape":{"field":"g","type":"nominal","scale":{"domain":["Sal+Veh","Sal+Rot","LPS+Veh","LPS+Rot"],"range":["M-3.4,0H-1.4M1.4,0H3.4M0,-1.25L1.35,1L-1.35,1Z","M-3.4,0H-2.6M-2.2,0H-1.4M1.4,0H2.2M2.6,0H3.4M0,-1.25L1.35,1L-1.35,1Z","M-3.4,0H-2.9M-2.5,0H-2M-1.6,0H-1.4M1.4,0H1.6M2,0H2.5M2.9,0H3.4M-1.1,-1.1H1.1V1.1H-1.1Z","M-3.4,0H-3.05M-2.7,0H-2.35M-2,0H-1.65M1.65,0H2M2.35,0H2.7M3.05,0H3.4M-1.1,-1.1H1.1V1.1H-1.1Z"]},"legend":{"title":null,"orient":"none","legendX":113,"legendY":70.45,"symbolSize":36,"labelFont":"Liberation Serif","labelFontSize":11.5,"labelColor":"#222","labelOffset":9,"rowPadding":-5.7,"padding":0,"symbolStrokeWidth":1,"symbolStrokeColor":"#222","labelBaseline":"middle","encode":{"symbols":{"update":{"stroke":{"value":"#222"},"strokeWidth":{"value":1},"opacity":{"value":1}}}}}},
"fill":{"field":"g","type":"nominal","scale":{"domain":["Sal+Veh","Sal+Rot","LPS+Veh","LPS+Rot"],"range":["#ffffff","#111111","#ffffff","#111111"]},"legend":{"title":null,"orient":"none","legendX":113,"legendY":70.45,"symbolSize":36,"labelFont":"Liberation Serif","labelFontSize":11.5,"labelColor":"#222","labelOffset":9,"rowPadding":-5.7,"padding":0,"symbolStrokeWidth":1,"symbolStrokeColor":"#222","labelBaseline":"middle","encode":{"symbols":{"update":{"stroke":{"value":"#222"},"strokeWidth":{"value":1},"opacity":{"value":1}}}}}},
"strokeDash":{"field":"g","type":"nominal","scale":{"domain":["Sal+Veh","Sal+Rot","LPS+Veh","LPS+Rot"],"range":[[1,0],[1,0],[1,0],[1,0]]},"legend":{"title":null,"orient":"none","legendX":113,"legendY":70.45,"symbolSize":36,"labelFont":"Liberation Serif","labelFontSize":11.5,"labelColor":"#222","labelOffset":9,"rowPadding":-5.7,"padding":0,"symbolStrokeWidth":1,"symbolStrokeColor":"#222","labelBaseline":"middle","encode":{"symbols":{"update":{"stroke":{"value":"#222"},"strokeWidth":{"value":1},"opacity":{"value":1}}}}}}}},
{"transform":[{"filter":"datum.g == 'LPS+Rot' && datum.day > 70"}],"mark":{"type":"text","text":"*","font":"Liberation Serif","fontSize":12,"color":"#444","baseline":"middle","dx":9,"dy":-2}},
{"data":{"values":[{"day":70,"m":7.4,"m2":4.0}]},"mark":{"type":"rule","strokeWidth":2,"color":"#111"},"encoding":{"y2":{"field":"m2"}}},
{"data":{"values":[{"day":70,"m":4.0}]},"mark":{"type":"point","shape":"triangle-down","filled":true,"color":"#111","size":50,"opacity":1}},
{"data":{"values":[{"day":66.7,"m":11.0,"label":"Vehicle"},{"day":66.7,"m":8.4,"label":"Rotenone"}]},"mark":{"type":"text","align":"left","baseline":"alphabetic","font":"Liberation Sans","fontSize":9.5,"color":"#222"},"encoding":{"text":{"field":"label"}}}
],
"resolve":{"scale":{"shape":"independent","fill":"independent","strokeDash":"independent"}}},

{"width":187,"height":122,"title":{"text":"I","dx":-41,"offset":9},"data":{"name":"I"},
"encoding":{"x":{"field":"day","type":"quantitative","scale":{"domain":[64.89,103.11],"nice":false,"zero":false},"axis":{"values":[70,77,84,91,98],"format":"d","title":"Age (day)","titleX":93.5}},
"y":{"field":"m","type":"quantitative","scale":{"domain":[0,40],"nice":false,"zero":false},"axis":{"values":[0,10,20,30,40],"format":"d","title":"Response Latency (sec)","titleX":-33}}},
"layer":[
{"mark":{"type":"line","color":"#222","strokeWidth":1},"encoding":{"strokeDash":{"field":"g","type":"nominal","scale":{"domain":["Sal+Veh","Sal+Rot","LPS+Veh","LPS+Rot"],"range":[[1,0],[4,2],[2,1.5],[1,1.5]]},"legend":null}}},
{"mark":{"type":"errorbar","color":"#222","thickness":1,"ticks":{"size":7,"thickness":1,"color":"#222"}},"encoding":{"yError":{"field":"e"}}},
{"transform":[{"filter":"datum.g == 'Sal+Veh' || datum.g == 'Sal+Rot'"}],"mark":{"type":"point","shape":"triangle-up","filled":true,"stroke":"#222","strokeWidth":1,"size":55,"opacity":1},"encoding":{"fill":{"field":"g","type":"nominal","scale":{"domain":["Sal+Veh","Sal+Rot","LPS+Veh","LPS+Rot"],"range":["#ffffff","#111111","#ffffff","#111111"]},"legend":null}}},
{"transform":[{"filter":"datum.g == 'LPS+Veh' || datum.g == 'LPS+Rot'"}],"mark":{"type":"point","shape":"square","filled":true,"stroke":"#222","strokeWidth":1,"size":45,"opacity":1},"encoding":{"fill":{"field":"g","type":"nominal","scale":{"domain":["Sal+Veh","Sal+Rot","LPS+Veh","LPS+Rot"],"range":["#ffffff","#111111","#ffffff","#111111"]},"legend":null}}},
{"mark":{"type":"point","filled":true,"opacity":0,"size":36},"encoding":{
"shape":{"field":"g","type":"nominal","scale":{"domain":["Sal+Veh","Sal+Rot","LPS+Veh","LPS+Rot"],"range":["M-3.4,0H-1.4M1.4,0H3.4M0,-1.25L1.35,1L-1.35,1Z","M-3.4,0H-2.6M-2.2,0H-1.4M1.4,0H2.2M2.6,0H3.4M0,-1.25L1.35,1L-1.35,1Z","M-3.4,0H-2.9M-2.5,0H-2M-1.6,0H-1.4M1.4,0H1.6M2,0H2.5M2.9,0H3.4M-1.1,-1.1H1.1V1.1H-1.1Z","M-3.4,0H-3.05M-2.7,0H-2.35M-2,0H-1.65M1.65,0H2M2.35,0H2.7M3.05,0H3.4M-1.1,-1.1H1.1V1.1H-1.1Z"]},"legend":{"title":null,"orient":"none","legendX":109,"legendY":60.45,"symbolSize":36,"labelFont":"Liberation Serif","labelFontSize":11.5,"labelColor":"#222","labelOffset":9,"rowPadding":-5.4,"padding":0,"symbolStrokeWidth":1,"symbolStrokeColor":"#222","labelBaseline":"middle","encode":{"symbols":{"update":{"stroke":{"value":"#222"},"strokeWidth":{"value":1},"opacity":{"value":1}}}}}},
"fill":{"field":"g","type":"nominal","scale":{"domain":["Sal+Veh","Sal+Rot","LPS+Veh","LPS+Rot"],"range":["#ffffff","#111111","#ffffff","#111111"]},"legend":{"title":null,"orient":"none","legendX":109,"legendY":60.45,"symbolSize":36,"labelFont":"Liberation Serif","labelFontSize":11.5,"labelColor":"#222","labelOffset":9,"rowPadding":-5.4,"padding":0,"symbolStrokeWidth":1,"symbolStrokeColor":"#222","labelBaseline":"middle","encode":{"symbols":{"update":{"stroke":{"value":"#222"},"strokeWidth":{"value":1},"opacity":{"value":1}}}}}},
"strokeDash":{"field":"g","type":"nominal","scale":{"domain":["Sal+Veh","Sal+Rot","LPS+Veh","LPS+Rot"],"range":[[1,0],[1,0],[1,0],[1,0]]},"legend":{"title":null,"orient":"none","legendX":109,"legendY":60.45,"symbolSize":36,"labelFont":"Liberation Serif","labelFontSize":11.5,"labelColor":"#222","labelOffset":9,"rowPadding":-5.4,"padding":0,"symbolStrokeWidth":1,"symbolStrokeColor":"#222","labelBaseline":"middle","encode":{"symbols":{"update":{"stroke":{"value":"#222"},"strokeWidth":{"value":1},"opacity":{"value":1}}}}}}}},
{"transform":[{"filter":"datum.g == 'LPS+Rot' && datum.day > 70"}],"mark":{"type":"text","text":"*","font":"Liberation Serif","fontSize":12,"color":"#444","baseline":"middle","dx":9,"dy":-3}},
{"data":{"values":[{"day":70,"m":13.6,"m2":9.9}]},"mark":{"type":"rule","strokeWidth":2,"color":"#111"},"encoding":{"y2":{"field":"m2"}}},
{"data":{"values":[{"day":70,"m":9.9}]},"mark":{"type":"point","shape":"triangle-down","filled":true,"color":"#111","size":50,"opacity":1}},
{"data":{"values":[{"day":66.7,"m":20,"label":"Vehicle"},{"day":66.7,"m":16.56,"label":"Rotenone"}]},"mark":{"type":"text","align":"left","baseline":"alphabetic","font":"Liberation Sans","fontSize":9.5,"color":"#222"},"encoding":{"text":{"field":"label"}}}
],
"resolve":{"scale":{"shape":"independent","fill":"independent","strokeDash":"independent"}}}
],
"config": {
"view": {"stroke": null},
"axis": {"grid": false, "domainColor": "#222", "domainWidth": 1.2, "tickColor": "#222", "tickWidth": 1, "tickSize": 4, "labelColor": "#333", "labelFont": "Liberation Serif", "labelFontSize": 10.5, "labelPadding": 2, "titleFont": "Liberation Serif", "titleFontSize": 13.5, "titleFontWeight": "normal", "titleColor": "#222", "labelFlush": false, "labelOverlap": false, "titleBaseline": "middle"},
"axisX": {"titleY": 28},
"title": {"anchor": "start", "frame": "group", "font": "Liberation Sans", "fontSize": 21, "fontWeight": "bold", "color": "#111"}
}
}
